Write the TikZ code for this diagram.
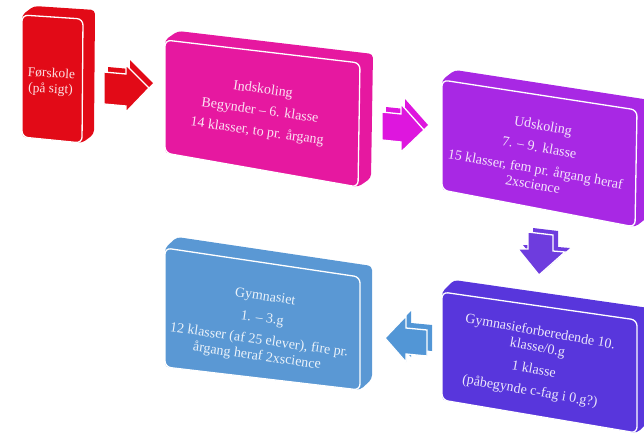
\documentclass[tikz,border=0pt]{standalone}
\usepackage{fontspec}
\setmainfont{Liberation Serif}
\usetikzlibrary{calc}
\definecolor{cred}{RGB}{226,10,23}
\definecolor{cpink}{RGB}{230,24,160}
\definecolor{cmag}{RGB}{222,22,222}
\definecolor{cpurple}{RGB}{168,40,228}
\definecolor{cviolet}{RGB}{110,60,222}
\definecolor{cbv}{RGB}{88,54,220}
\definecolor{cbluearr}{RGB}{82,150,214}
\definecolor{cblue}{RGB}{90,152,212}
\tikzset{
  txt/.style={align=center, text=white, text opacity=0.88, inner sep=0pt,
    font=\fontsize{14}{16}\selectfont},
  gap/.style={draw=white, line width=1.3pt},
}
% #1 colour, #2-#5 front corners TL TR BR BL, #6 depth offset
\newcommand\cubebox[6]{%
  \fill[#1, rounded corners=4pt] (#2) -- ($(#2)+(#6)$) -- ($(#3)+(#6)$) -- ($(#4)+(#6)$) -- (#4) -- (#5) -- cycle;
  \filldraw[#1, gap, rounded corners=6pt] (#2) -- (#3) -- (#4) -- (#5) -- cycle;
}
% #1 colour, #2 offset, #3 path
\newcommand\blockarrow[3]{%
  \fill[#1, shift={(#2)}] #3;
  \filldraw[#1, gap, line join=miter] #3;
}
\begin{document}
\begin{tikzpicture}[x=1pt,y=-1pt]
\useasboundingbox (0,0) rectangle (644,437);
\clip (0,0) rectangle (644,437);

% boxes
\cubebox{cred}{22,15}{83,19}{82,143}{22,137}{12,-9}
\cubebox{cpink}{165,40}{360,63}{358,187}{165,153}{13,-9}
\cubebox{cpurple}{442,80}{637,110}{635,227}{442,190}{13,-10}
\cubebox{cbv}{442,292}{637,320}{637,433}{442,400}{12,-12}
\cubebox{cblue}{165,248}{360,277}{360,390}{165,367}{12,-11}

% arrows
\blockarrow{cred}{4,-5}{(104,72) -- (126,74) -- (126,65) -- (149,88) -- (126,112) -- (126,106) -- (104,104) -- cycle}
\blockarrow{cmag}{4,-5}{(382,112) -- (401,114) -- (401,104) -- (424,130) -- (401,152) -- (401,142) -- (382,140) -- cycle}
\blockarrow{cviolet}{5,-4}{(528,232) -- (553,235) -- (553,251) -- (565,252) -- (539,275) -- (518,249) -- (528,249) -- cycle}
\blockarrow{cbluearr}{5,-5}{(385,338) -- (406,316) -- (406,328) -- (427,330) -- (427,356) -- (406,354) -- (406,362) -- cycle}

% texts
\node[txt, rotate=-3, font=\fontsize{13.5}{15.5}\selectfont] (t1) at (51,82) {Førskole\\(på sigt)};
\node[txt, rotate=-8] (t2) at (260,111) {Indskoling\\[5pt]Begynder – 6. klasse\\[5pt]14 klasser, to pr. årgang};
\node[txt, rotate=-10] (t3) at (538,155) {Udskoling\\[6pt]7. – 9. klasse\\[6pt]15 klasser, fem pr. årgang heraf\\2xscience};
\node[txt, rotate=-10] (t4) at (535,362) {Gymnasieforberedende 10.\\klasse/0.g\\[6pt]1 klasse\\[6pt](påbegynde c-fag i 0.g?)};
\node[txt, rotate=-8] (t5) at (261,327) {Gymnasiet\\[6pt]1. – 3.g\\[6pt]12 klasser (af 25 elever), fire pr.\\årgang heraf 2xscience};
\end{tikzpicture}
\end{document}
